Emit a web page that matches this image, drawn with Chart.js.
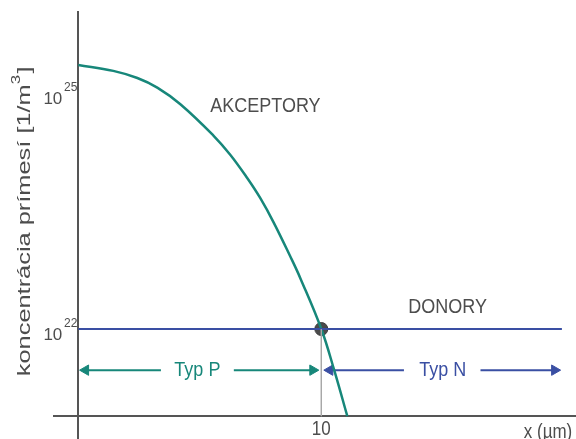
<!DOCTYPE html>
<html>
<head>
<meta charset="utf-8">
<script src="https://cdn.jsdelivr.net/npm/chart.js@4/dist/chart.umd.min.js"></script>
<style>
  html, body { margin: 0; padding: 0; background: #fff; }
  canvas { display: block; }
</style>
</head>
<body>
<canvas id="profil" width="576" height="439"></canvas>
<script>
// hĺbka x (µm) a koncentrácia akceptorov (1/m^3)
const hlbka = [0, 1.44, 2.43, 3.25, 4.2, 5.56, 6.26, 6.95, 7.49, 8.02, 8.72, 9.14, 10, 10.53, 11.07];
const akceptory = [2.27e25, 1.91e25, 1.55e25, 1.17e25, 7.2e24, 2.88e24, 1.63e24, 8.3e23, 4.6e23, 2.32e23, 8.4e22, 4.4e22, 1e22, 3.0e21, 7.8e20];

// donory - konštantná koncentrácia
const donoryX = [0, 19.9];
const donory = [1e22, 1e22];

// PN prechod
const prechodX = 10;
const prechodN = 1e22;

// rozsahy typu P a N (začiatok, koniec šípky)
const typP = [[0.3, 3.4], [6.4, 9.65]];
const typN = [[10.35, 13.4], [16.55, 19.6]];
const sipkaN = 3.0e21;

const xTicks = [10];
const yTicks = [1e22, 1e25];
const osX = 7.8e20;   // hodnota, kde leží os x

const ZELENA = '#17877a';
const MODRA = '#3a4fa3';
const SEDA = '#4d4d4d';
const FONT = '"Liberation Sans", Arial, sans-serif';

const pts = (xs, ys) => xs.map((x, i) => ({ x: x, y: ys[i] }));

function arrow(span, y, color, headAtStart) {
  return {
    data: [{ x: span[0], y: y }, { x: span[1], y: y }],
    borderColor: color,
    borderWidth: 2,
    pointStyle: 'triangle',
    pointBackgroundColor: color,
    pointBorderColor: color,
    pointBorderWidth: 1,
    pointRadius: headAtStart ? [6, 0] : [0, 6],
    pointRotation: headAtStart ? [-90, 0] : [0, 90]
  };
}

function text(ctx, s, x, y, size, color) {
  ctx.save();
  ctx.translate(x, y);
  ctx.scale(1, 1.15);
  ctx.font = size + 'px ' + FONT;
  ctx.fillStyle = color;
  ctx.textAlign = 'center';
  ctx.textBaseline = 'middle';
  ctx.fillText(s, 0, 0);
  ctx.restore();
}

const popisy = {
  id: 'popisy',
  afterDraw(chart) {
    const ctx = chart.ctx;
    const sx = chart.scales.x, sy = chart.scales.y;
    const x0 = sx.getPixelForValue(0);
    const yOs = sy.getPixelForValue(osX);

    // 10^n pri osi y
    yTicks.forEach(v => {
      const py = sy.getPixelForValue(v);
      const exp = String(Math.round(Math.log10(v)));
      ctx.save();
      ctx.fillStyle = SEDA;
      ctx.textAlign = 'right';
      ctx.textBaseline = 'alphabetic';
      ctx.font = '17px ' + FONT;
      ctx.fillText('10', x0 - 16, py + 11);
      ctx.font = '12px ' + FONT;
      ctx.fillText(exp, x0 - 1, py - 2);
      ctx.restore();
    });

    // popisy osi x
    xTicks.forEach(v => text(ctx, String(v), sx.getPixelForValue(v), yOs + 13, 17, SEDA));
    text(ctx, 'x (\u00b5m)', chart.chartArea.right - 28, yOs + 16, 17, SEDA);

    text(ctx, 'AKCEPTORY', sx.getPixelForValue(7.7), sy.getPixelForValue(6.8e24), 18, SEDA);
    text(ctx, 'DONORY', sx.getPixelForValue(15.2), sy.getPixelForValue(1.9e22), 18, SEDA);
    text(ctx, 'Typ P', sx.getPixelForValue(4.9), sy.getPixelForValue(sipkaN), 18, ZELENA);
    text(ctx, 'Typ N', sx.getPixelForValue(15.0), sy.getPixelForValue(sipkaN), 18, MODRA);

    // názov osi y
    ctx.save();
    ctx.translate(25, 222);
    ctx.rotate(-Math.PI / 2);
    ctx.scale(1.41, 1);
    ctx.fillStyle = SEDA;
    ctx.textBaseline = 'middle';
    ctx.font = '18px ' + FONT;
    const hlavny = 'koncentrácia prímesí [1/m';
    const w1 = ctx.measureText(hlavny).width;
    ctx.font = '12px ' + FONT;
    const w2 = ctx.measureText('3').width;
    ctx.font = '18px ' + FONT;
    const w3 = ctx.measureText(']').width;
    let xx = -(w1 + w2 + w3) / 2;
    ctx.textAlign = 'left';
    ctx.fillText(hlavny, xx, 0);
    ctx.font = '12px ' + FONT;
    ctx.fillText('3', xx + w1, -8);
    ctx.font = '18px ' + FONT;
    ctx.fillText(']', xx + w1 + w2 + 1, 0);
    ctx.restore();
  }
};

new Chart(document.getElementById('profil'), {
  type: 'line',
  data: {
    datasets: [
      {
        // spojnica prechodu k osi x
        data: [{ x: prechodX, y: prechodN }, { x: prechodX, y: osX }],
        borderColor: '#a8a8a8',
        borderWidth: 1,
        pointRadius: 0
      },
      {
        data: pts(donoryX, donory),
        borderColor: MODRA,
        borderWidth: 2,
        pointRadius: 0
      },
      {
        data: pts(hlbka, akceptory),
        borderColor: ZELENA,
        borderWidth: 2.5,
        pointRadius: 0,
        tension: 0.4
      },
      {
        data: [{ x: prechodX, y: prechodN }],
        showLine: false,
        pointRadius: 6.5,
        pointBackgroundColor: '#4a4a4a',
        pointBorderColor: '#3a3a3a',
        pointBorderWidth: 1
      },
      arrow(typP[0], sipkaN, ZELENA, true),
      arrow(typP[1], sipkaN, ZELENA, false),
      arrow(typN[0], sipkaN, MODRA, true),
      arrow(typN[1], sipkaN, MODRA, false)
    ]
  },
  options: {
    responsive: false,
    animation: false,
    layout: { autoPadding: false, padding: { left: 54, top: 12, right: 0, bottom: 0 } },
    plugins: { legend: { display: false }, tooltip: { enabled: false } },
    scales: {
      x: {
        type: 'linear',
        min: -1,
        max: 20.48,
        position: { y: osX },
        grid: { display: false, drawTicks: false },
        border: { color: '#555', width: 2 },
        afterBuildTicks: s => { s.ticks = xTicks.map(v => ({ value: v })); },
        ticks: { display: false }
      },
      y: {
        type: 'logarithmic',
        min: 4.0e20,
        max: 1.07e26,
        position: { x: 0 },
        grid: { display: false, drawTicks: false },
        border: { color: '#555', width: 2 },
        afterBuildTicks: s => { s.ticks = yTicks.map(v => ({ value: v })); },
        ticks: { display: false }
      }
    }
  },
  plugins: [popisy]
});
</script>
</body>
</html>
